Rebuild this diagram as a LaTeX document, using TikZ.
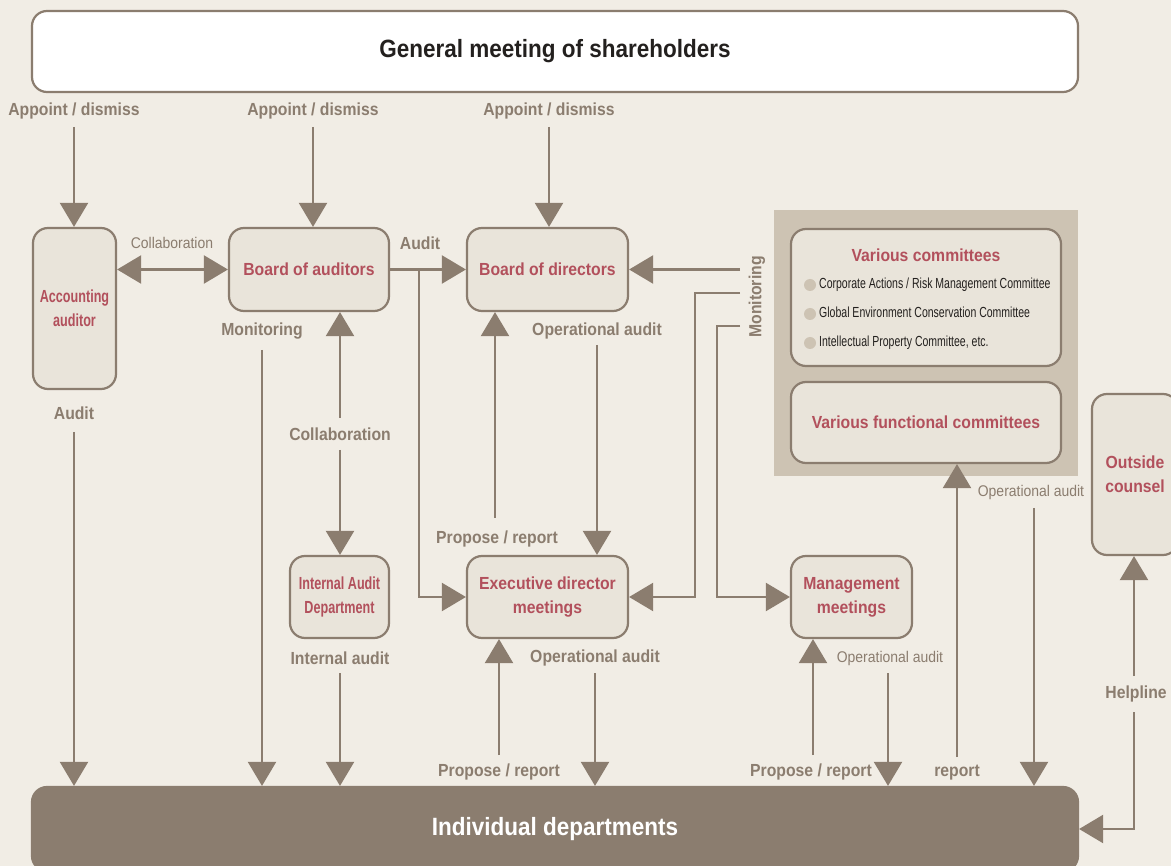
\documentclass[tikz,border=0pt]{standalone}
\usepackage{fontspec}
\setmainfont{Liberation Sans}[FakeStretch=0.9]
\newfontfamily\condfont{Liberation Sans}[FakeStretch=0.72]
\usetikzlibrary{arrows.meta}
\definecolor{bgcol}{RGB}{241,237,229}
\definecolor{linecol}{RGB}{139,125,111}
\definecolor{boxcol}{RGB}{233,228,218}
\definecolor{panelcol}{RGB}{205,195,179}
\definecolor{redtxt}{RGB}{178,80,92}
\definecolor{darktxt}{RGB}{35,32,30}

\tikzset{
  unitbox/.style={draw=linecol, line width=2.2pt, fill=boxcol, rounded corners=15pt, inner sep=0pt, align=center, text=redtxt, font=\bfseries\fontsize{17.5}{24}\selectfont},
  tag/.style={text=linecol, inner sep=0pt, font=\bfseries\fontsize{17.5}{21}\selectfont},
  smalltag/.style={text=linecol, inner sep=0pt, font=\fontsize{15.5}{19}\selectfont},
  itemtxt/.style={text=darktxt, inner sep=0pt, anchor=west, text height=10.5pt, text depth=3pt, font=\condfont\fontsize{14.6}{17}\selectfont},
  wire/.style={draw=linecol, line width=2.2pt},
  flow/.style={wire, -{Triangle[length=24pt,width=28pt]}},
  flowboth/.style={wire, {Triangle[length=24pt,width=28pt]}-{Triangle[length=24pt,width=28pt]}},
}

\begin{document}
\begin{tikzpicture}[x=1pt,y=-1pt]
% page and background
\useasboundingbox (0,0) rectangle (1171,866);
\fill[bgcol] (0,0) rectangle (1171,866);

% committee panel
\fill[panelcol] (774,210) rectangle (1078,476);

% boxes
\node[unitbox, fill=white, text=darktxt, minimum width=1046, minimum height=81, font=\bfseries\fontsize{25}{30}\selectfont] (gms) at (555,51.5) {General meeting of shareholders};
\node[unitbox, minimum width=83, minimum height=161, font=\condfont\bfseries\fontsize{17.5}{24}\selectfont] (acc) at (74.5,308.5) {Accounting\\auditor};
\node[unitbox, minimum width=160, minimum height=83] (boa) at (309,269.5) {Board of auditors};
\node[unitbox, minimum width=161, minimum height=83] (bod) at (547.5,269.5) {Board of directors};
\node[unitbox, minimum width=99, minimum height=82, font=\condfont\bfseries\fontsize{17.5}{24}\selectfont] (iad) at (339.5,597) {Internal Audit\\Department};
\node[unitbox, minimum width=161, minimum height=82] (edm) at (547.5,597) {Executive director\\meetings};
\node[unitbox, minimum width=121, minimum height=82] (mgm) at (851.5,597) {Management\\meetings};
\node[unitbox, minimum width=270, minimum height=137] (vc) at (926,297.5) {};
\node[unitbox, minimum width=270, minimum height=81] (vfc) at (926,422.5) {Various functional committees};
\node[unitbox, minimum width=86, minimum height=161] (oc) at (1135,474.5) {Outside\\counsel};
\node[unitbox, fill=linecol, text=white, minimum width=1046, minimum height=84, font=\bfseries\fontsize{25}{30}\selectfont] (idp) at (555,829) {Individual departments};

% various committees contents
\node[text=redtxt, inner sep=0pt, font=\bfseries\fontsize{17.5}{21}\selectfont] (vct) at (926,255) {Various committees};
\fill[panelcol] (810,285) circle (6);
\fill[panelcol] (810,314) circle (6);
\fill[panelcol] (810,343) circle (6);
\node[itemtxt] (it1) at (819,285) {Corporate Actions / Risk Management Committee};
\node[itemtxt] (it2) at (819,314) {Global Environment Conservation Committee};
\node[itemtxt] (it3) at (819,343) {Intellectual Property Committee, etc.};

% labels
\node[tag] (l1) at (74,111) {Appoint / dismiss};
\node[tag] (l2) at (313,111) {Appoint / dismiss};
\node[tag] (l3) at (549,111) {Appoint / dismiss};
\node[smalltag] (l4) at (172,243) {Collaboration};
\node[tag] (l5) at (420,243) {Audit};
\node[tag] (l6) at (262,331) {Monitoring};
\node[tag] (l7) at (74,413) {Audit};
\node[tag] (l8) at (340,434) {Collaboration};
\node[tag] (l9) at (597,331) {Operational audit};
\node[tag, rotate=90] (l10) at (757,297) {Monitoring};
\node[tag] (l11) at (497,539) {Propose / report};
\node[tag] (l12) at (340,658) {Internal audit};
\node[tag] (l13) at (595,658) {Operational audit};
\node[tag] (l14) at (499,772) {Propose / report};
\node[smalltag] (l15) at (890,658) {Operational audit};
\node[tag] (l16) at (811,772) {Propose / report};
\node[tag] (l17) at (957,773) {report};
\node[smalltag] (l18) at (1031,492) {Operational audit};
\node[tag] (l19) at (1136,694) {Helpline};

% free ends
\coordinate (a1) at (74,127);
\coordinate (a2) at (313,127);
\coordinate (a3) at (549,127);
\coordinate (m1) at (262,350);
\coordinate (au1) at (74,432);
\coordinate (c1) at (340,418);
\coordinate (c2) at (340,450);
\coordinate (ia1) at (340,673);
\coordinate (mon1) at (740,269.5);
\coordinate (mon2) at (740,293);
\coordinate (mon3) at (740,326);
\coordinate (pr1) at (495,518);
\coordinate (oa1) at (597,345);
\coordinate (pr2) at (499,755);
\coordinate (oa2) at (595,673);
\coordinate (pr3) at (813,755);
\coordinate (oa3) at (888,673);
\coordinate (rp1) at (957,757);
\coordinate (oa4) at (1034,508);
\coordinate (hl1) at (1134,676);
\coordinate (hl2) at (1134,712);

% connectors
\draw[flow] (a1) -- (a1 |- acc.north);
\draw[flow] (a2) -- (a2 |- boa.north);
\draw[flow] (a3) -- (a3 |- bod.north);
\draw[flowboth] (acc.east |- boa) -- (boa.west);
\draw[flow] (boa.east) -- (bod.west);
\draw[flow] ([xshift=29]boa.east) |- (edm.west);
\draw[flow] (m1) -- (m1 |- idp.north);
\draw[flow] (au1) -- (au1 |- idp.north);
\draw[flow] (c1) -- (c1 |- boa.south);
\draw[flow] (c2) -- (c2 |- iad.north);
\draw[flow] (ia1) -- (ia1 |- idp.north);
\draw[flow] (mon1) -- (bod.east);
\draw[flow] (mon2) -- ([xshift=-45]mon2) |- (edm.east);
\draw[flow] (mon3) -- ([xshift=-23]mon3) |- (mgm.west);
\draw[flow] (pr1) -- (pr1 |- bod.south);
\draw[flow] (oa1) -- (oa1 |- edm.north);
\draw[flow] (pr2) -- (pr2 |- edm.south);
\draw[flow] (oa2) -- (oa2 |- idp.north);
\draw[flow] (pr3) -- (pr3 |- mgm.south);
\draw[flow] (oa3) -- (oa3 |- idp.north);
\draw[flow] (rp1) -- (rp1 |- vfc.south);
\draw[flow] (oa4) -- (oa4 |- idp.north);
\draw[flow] (hl1) -- (hl1 |- oc.south);
\draw[flow] (hl2) |- (idp.east);
\end{tikzpicture}
\end{document}
